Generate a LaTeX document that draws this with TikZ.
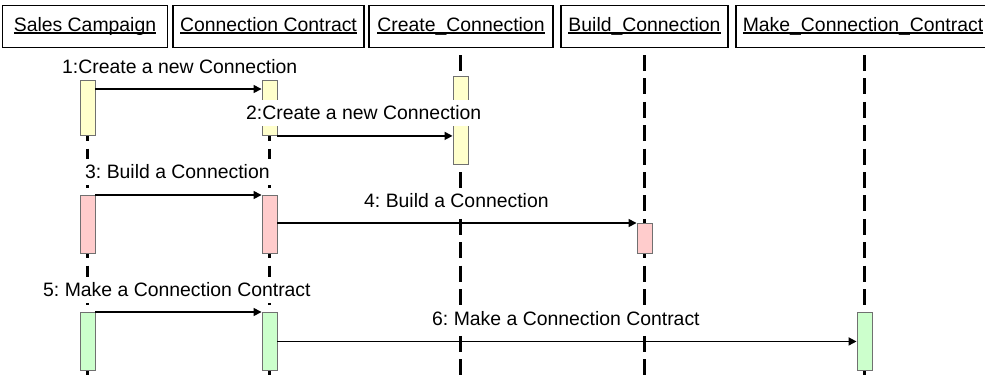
\documentclass[tikz,border=0pt]{standalone}
\usepackage{fontspec}
\setmainfont{Liberation Sans}
\usetikzlibrary{arrows.meta,calc}
\frenchspacing

\definecolor{actYellow}{HTML}{FFFFCC}
\definecolor{actPink}{HTML}{FFCCCC}
\definecolor{actGreen}{HTML}{CCFFCC}
\definecolor{actBorder}{HTML}{707070}

% underlined object name, with the rule just below the baseline
\newcommand{\objname}[1]{\setbox0\hbox{#1}\rlap{\rule[-2pt]{\wd0}{1.2pt}}\box0}

\begin{document}
\begin{tikzpicture}[x=1pt, y=-1pt,
  font=\fontsize{19.4}{22}\selectfont,
  head/.style={draw, line width=1.6pt, minimum height=42pt, inner sep=0pt,
               text height=14pt, text depth=4pt},
  life/.style={line width=2.8pt, dash pattern=on 16pt off 7.4pt},
  act/.style={draw=actBorder, line width=0.9pt, minimum width=15pt,
              inner sep=0pt, anchor=north},
  msg/.style={line width=1.5pt, -{Triangle[length=8pt,width=8pt]}},
  lbl/.style={fill=white, inner xsep=1pt, inner ysep=6pt, anchor=west}]

\useasboundingbox (0,0) rectangle (985,376);
\clip (0,0) rectangle (985,376);

% object headers
\node[head, minimum width=165pt] (hSC) at (85,26.5) {\objname{Sales Campaign}};
\node[head, minimum width=191pt] (hCC) at (268.5,26.5) {\objname{Connection Contract}};
\node[head, minimum width=184pt] (hCR) at (461,26.5) {\objname{Create\_Connection}};
\node[head, minimum width=167pt] (hBC) at (644.5,26.5) {\objname{Build\_Connection}};
\node[head, minimum width=254pt] (hMC) at (863,26.5) {\objname{Make\_Connection\_Contract}};

% lifelines
\coordinate (tSC) at (87.5,55);  \coordinate (bSC) at (87.5,376);
\coordinate (tCC) at (269.5,55); \coordinate (bCC) at (269.5,376);
\coordinate (tCR) at (460.5,55); \coordinate (bCR) at (460.5,376);
\coordinate (tBC) at (644.5,55); \coordinate (bBC) at (644.5,376);
\coordinate (tMC) at (864.5,55); \coordinate (bMC) at (864.5,376);
\foreach \l in {SC,CC,CR,BC,MC} \draw[life] (t\l) -- (b\l);

% activations
\node[act, fill=actYellow, minimum height=55pt] (s1) at (87.5,80) {};
\node[act, fill=actYellow, minimum height=55pt] (c1) at (269.5,80) {};
\node[act, fill=actYellow, minimum height=88pt] (cr) at (460.5,76) {};
\node[act, fill=actPink, minimum height=58pt] (s2) at (87.5,195) {};
\node[act, fill=actPink, minimum height=58pt] (c2) at (269.5,195) {};
\node[act, fill=actPink, minimum height=30pt] (b2) at (644.5,223) {};
\node[act, fill=actGreen, minimum height=58pt] (s3) at (87.5,312) {};
\node[act, fill=actGreen, minimum height=58pt] (c3) at (269.5,312) {};
\node[act, fill=actGreen, minimum height=58pt] (m3) at (864.5,312) {};

% message labels
\node[lbl] (l1) at (61,67) {1:Create a new Connection};
\node[lbl] (l2) at (245,113) {2:Create a new Connection};
\node[lbl] (l3) at (84,172) {3: Build a Connection};
\node[lbl] (l4) at (363,201) {4: Build a Connection};
\node[lbl] (l5) at (42,290) {5: Make a Connection Contract};
\node[lbl] (l6) at (431,319) {6: Make a Connection Contract};

% messages
\draw[msg] ($(s1.north east)+(0,9)$) -- ($(c1.north west)+(0,9)$);
\draw[msg] (c1.south east) -- (c1.south east -| cr.west);
\draw[msg] (s2.north east) -- (c2.north west);
\draw[msg] (c2.east |- b2.north) -- (b2.north west);
\draw[msg] (s3.north east) -- (c3.north west);
\draw[msg] (c3.east) -- (m3.west);
\end{tikzpicture}
\end{document}
